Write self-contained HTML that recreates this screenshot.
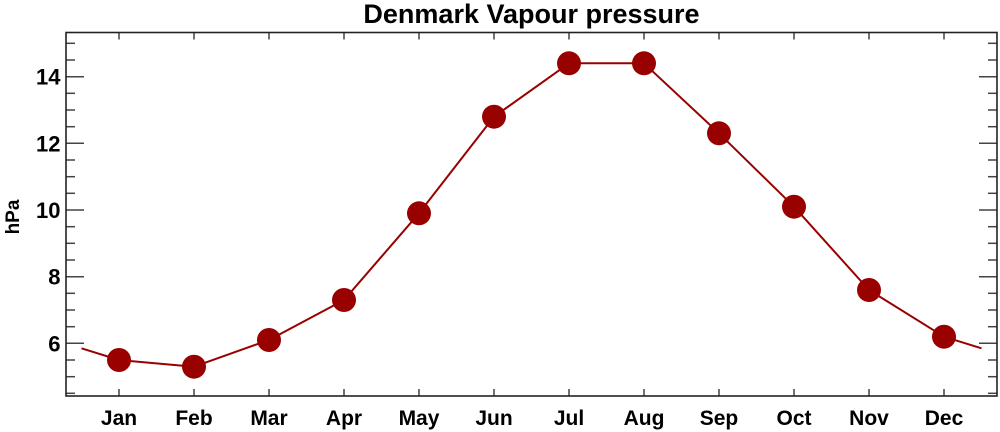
<!DOCTYPE html>
<html>
<head>
<meta charset="utf-8">
<style>
  html, body { margin: 0; padding: 0; background: #fff; }
  svg { display: block; }
  text { font-family: "Liberation Sans", Arial, sans-serif; font-weight: bold; fill: #000; }
</style>
</head>
<body>
<svg width="1000" height="432" viewBox="0 0 1000 432" xmlns="http://www.w3.org/2000/svg">
  <!-- Title -->
  <text x="531.5" y="23" font-size="27" text-anchor="middle">Denmark Vapour pressure</text>

  <!-- Y axis label -->
  <text x="0" y="0" font-size="19" text-anchor="middle" transform="translate(19,217) rotate(-90)">hPa</text>

  <!-- Ticks -->
  <g stroke="#444" stroke-width="1.5" fill="none">
    <!-- left major -->
    <line x1="66" y1="343.3" x2="84" y2="343.3"/>
    <line x1="66" y1="276.7" x2="84" y2="276.7"/>
    <line x1="66" y1="210" x2="84" y2="210"/>
    <line x1="66" y1="143.3" x2="84" y2="143.3"/>
    <line x1="66" y1="76.7" x2="84" y2="76.7"/>
    <!-- left minor -->
    <line x1="66" y1="393.3" x2="75" y2="393.3"/>
    <line x1="66" y1="376.7" x2="75" y2="376.7"/>
    <line x1="66" y1="360" x2="75" y2="360"/>
    <line x1="66" y1="326.7" x2="75" y2="326.7"/>
    <line x1="66" y1="310" x2="75" y2="310"/>
    <line x1="66" y1="293.3" x2="75" y2="293.3"/>
    <line x1="66" y1="260" x2="75" y2="260"/>
    <line x1="66" y1="243.3" x2="75" y2="243.3"/>
    <line x1="66" y1="226.7" x2="75" y2="226.7"/>
    <line x1="66" y1="193.3" x2="75" y2="193.3"/>
    <line x1="66" y1="176.7" x2="75" y2="176.7"/>
    <line x1="66" y1="160" x2="75" y2="160"/>
    <line x1="66" y1="126.7" x2="75" y2="126.7"/>
    <line x1="66" y1="110" x2="75" y2="110"/>
    <line x1="66" y1="93.3" x2="75" y2="93.3"/>
    <line x1="66" y1="60" x2="75" y2="60"/>
    <line x1="66" y1="43.3" x2="75" y2="43.3"/>
    <!-- right major -->
    <line x1="979" y1="343.3" x2="997" y2="343.3"/>
    <line x1="979" y1="276.7" x2="997" y2="276.7"/>
    <line x1="979" y1="210" x2="997" y2="210"/>
    <line x1="979" y1="143.3" x2="997" y2="143.3"/>
    <line x1="979" y1="76.7" x2="997" y2="76.7"/>
    <!-- right minor -->
    <line x1="988" y1="393.3" x2="997" y2="393.3"/>
    <line x1="988" y1="376.7" x2="997" y2="376.7"/>
    <line x1="988" y1="360" x2="997" y2="360"/>
    <line x1="988" y1="326.7" x2="997" y2="326.7"/>
    <line x1="988" y1="310" x2="997" y2="310"/>
    <line x1="988" y1="293.3" x2="997" y2="293.3"/>
    <line x1="988" y1="260" x2="997" y2="260"/>
    <line x1="988" y1="243.3" x2="997" y2="243.3"/>
    <line x1="988" y1="226.7" x2="997" y2="226.7"/>
    <line x1="988" y1="193.3" x2="997" y2="193.3"/>
    <line x1="988" y1="176.7" x2="997" y2="176.7"/>
    <line x1="988" y1="160" x2="997" y2="160"/>
    <line x1="988" y1="126.7" x2="997" y2="126.7"/>
    <line x1="988" y1="110" x2="997" y2="110"/>
    <line x1="988" y1="93.3" x2="997" y2="93.3"/>
    <line x1="988" y1="60" x2="997" y2="60"/>
    <line x1="988" y1="43.3" x2="997" y2="43.3"/>
    <!-- bottom & top x ticks -->
    <path d="M119 396 V389 M194 396 V389 M269 396 V389 M344 396 V389 M419 396 V389 M494 396 V389 M569 396 V389 M644 396 V389 M719 396 V389 M794 396 V389 M869 396 V389 M944 396 V389"/>
    <path d="M119 32.5 V39.5 M194 32.5 V39.5 M269 32.5 V39.5 M344 32.5 V39.5 M419 32.5 V39.5 M494 32.5 V39.5 M569 32.5 V39.5 M644 32.5 V39.5 M719 32.5 V39.5 M794 32.5 V39.5 M869 32.5 V39.5 M944 32.5 V39.5"/>
  </g>

  <!-- Frame -->
  <rect x="66" y="32.5" width="931" height="363.5" fill="none" stroke="#222" stroke-width="1.6"/>

  <!-- Y tick labels -->
  <g font-size="22" text-anchor="end">
    <text x="60.5" y="351.3">6</text>
    <text x="60.5" y="284.7">8</text>
    <text x="60.5" y="218">10</text>
    <text x="60.5" y="151.3">12</text>
    <text x="60.5" y="84.7">14</text>
  </g>

  <!-- X tick labels -->
  <g font-size="21" text-anchor="middle">
    <text x="119" y="425">Jan</text>
    <text x="194" y="425">Feb</text>
    <text x="269" y="425">Mar</text>
    <text x="344" y="425">Apr</text>
    <text x="419" y="425">May</text>
    <text x="494" y="425">Jun</text>
    <text x="569" y="425">Jul</text>
    <text x="644" y="425">Aug</text>
    <text x="719" y="425">Sep</text>
    <text x="794" y="425">Oct</text>
    <text x="869" y="425">Nov</text>
    <text x="944" y="425">Dec</text>
  </g>

  <!-- Series line -->
  <polyline fill="none" stroke="#990000" stroke-width="2" stroke-linejoin="round"
    points="81.5,348.3 119,360 194,366.7 269,340 344,300 419,213.3 494,116.7 569,63.3 644,63.3 719,133.3 794,206.7 869,290 944,336.7 981.5,348.3"/>

  <!-- Markers -->
  <g fill="#990000">
    <circle cx="119" cy="360" r="12"/>
    <circle cx="194" cy="366.7" r="12"/>
    <circle cx="269" cy="340" r="12"/>
    <circle cx="344" cy="300" r="12"/>
    <circle cx="419" cy="213.3" r="12"/>
    <circle cx="494" cy="116.7" r="12"/>
    <circle cx="569" cy="63.3" r="12"/>
    <circle cx="644" cy="63.3" r="12"/>
    <circle cx="719" cy="133.3" r="12"/>
    <circle cx="794" cy="206.7" r="12"/>
    <circle cx="869" cy="290" r="12"/>
    <circle cx="944" cy="336.7" r="12"/>
  </g>
</svg>
</body>
</html>
